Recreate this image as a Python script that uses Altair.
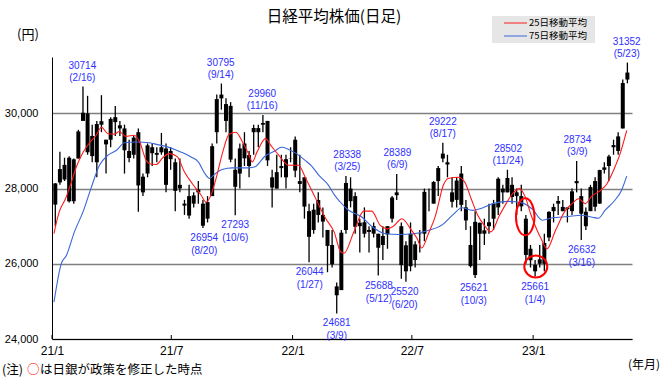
import altair as alt
import pandas as pd

# ---------------- data (weekly OHLC) ----------------
first_week = "2021-01-04"
opens = [27575,28164,28242,28822,27663,28800,29800,30000,29400,28700,29700,29300,29300,29900,29600,29600,29000,28900,29500,27900,28400,29100,28900,29100,28100,29000,28700,28100,27600,27800,27600,27900,27600,27200,27800,29500,30400,29800,30200,28500,28400,29200,28600,29500,29500,29700,29800,28300,28000,28600,28300,28800,
         29300,28200,28300,27400,26900,27300,27300,26900,26500,25400,25300,26900,28000,27800,27000,26800,26900,26800,26800,26500,27000,27200,27900,27000,25800,26800,26100,26800,26800,27800,27600,28200,28800,28700,27900,27700,28400,27500,26500,25700,26800,26800,27000,27600,27500,28000,27900,28100,27800,27800,27200,26400,
         25800,26000,26000,26700,27400,27600,27400,27500,27400,28200,27800,27000,27400,28200,27600,28500,28600,29100,29000,29600,30900]
highs = [28139,28979,28822,28860,28800,29563,30714,30468,29700,29800,30485,29300,29900,30200,29800,29700,29300,29400,29600,28400,29200,29200,29100,29480,29200,29100,28800,28800,27700,28100,27900,28200,27700,27800,29200,30500,30795,30400,30300,28800,29200,29500,29000,29700,29700,29960,29800,28500,28900,28900,28900,29100,
         29388,28900,28300,27600,27600,27900,27500,26900,26900,25500,26900,28338,28300,27900,27200,27500,27000,27100,26800,27000,27000,27800,28389,27100,26600,27100,26600,26900,28000,28000,28200,28600,29222,28900,28300,28300,28600,27700,27000,27400,27100,27200,27600,27700,28300,28100,28502,28300,28000,28100,27300,26500,
         26100,26500,26800,27400,27600,27800,27700,27500,28000,28734,28000,27500,28100,28300,28500,28700,28900,29300,29500,30900,31352]
lows = [27002,28100,28200,27629,27600,28800,29900,28900,28700,28300,29500,28400,29100,29400,29400,28400,28700,28800,27385,27800,28300,28600,28700,28900,27900,28500,27400,27900,27300,27200,27500,27600,26954,27100,27800,29200,30100,29500,28700,27293,28000,28600,28300,28900,29100,29500,28600,27500,28000,28300,28000,28700,
        28300,27900,27200,26044,26800,27100,26700,25776,25900,24681,25300,26800,27500,26800,26300,26700,26300,26700,25688,26100,26400,27100,27700,25600,25520,25800,25900,26300,26600,27400,27600,27800,28700,28300,27500,27500,27400,26900,25900,25621,26100,26500,26800,26900,27300,27600,27900,27600,27300,27400,26000,25900,
        25661,25900,25800,26600,27100,27300,27400,27100,27300,27900,26632,26900,27400,27400,27600,28400,28200,28900,28900,29600,30800]
closes = [28139,28519,28631,27663,28779,29520,30017,28966,28864,29717,29792,29176,29854,29768,29683,29020,28813,29357,28084,28317,29149,28941,28948,28964,29066,28783,27940,28003,27548,27283,27820,27977,27013,27641,29128,30381,30500,30248,28771,28048,29068,28804,28892,29611,29609,29745,28751,28029,28437,28545,28782,28791,
          28478,28124,27522,26717,27439,27696,27122,26476,25985,25163,26827,28150,27666,26985,27093,27105,26848,27003,26427,26739,26782,27762,27824,25963,26491,25935,26517,26788,27914,27801,28175,28546,28930,28641,27650,28214,27567,27153,25937,27116,27090,26890,27105,27199,28263,27899,28283,27777,27901,27527,26235,26094,
          25973,26119,26553,27382,27509,27670,27513,27453,27927,28143,27333,27385,28041,27518,28493,28564,28856,29157,29388,30808,31086]

ma25_dates = ["2021-01-04","2021-01-07","2021-01-12","2021-01-22","2021-01-30","2021-02-07","2021-02-17","2021-02-27","2021-03-09","2021-03-17",
              "2021-03-27","2021-04-06","2021-04-13","2021-04-23","2021-05-06","2021-05-14","2021-05-24","2021-05-29","2021-06-08","2021-06-18",
              "2021-06-28","2021-07-10","2021-07-21","2021-08-02","2021-08-15","2021-08-23","2021-08-30","2021-09-07","2021-09-17","2021-09-27",
              "2021-10-07","2021-10-17","2021-10-25","2021-11-01","2021-11-08","2021-11-21","2021-11-29","2021-12-11","2021-12-26","2022-01-10",
              "2022-01-21","2022-02-05","2022-02-20","2022-03-05","2022-03-15","2022-03-20","2022-04-04","2022-04-19","2022-05-01","2022-05-14",
              "2022-05-24","2022-06-03","2022-06-16","2022-06-29","2022-07-09","2022-07-16","2022-07-26","2022-08-06","2022-08-18","2022-08-25",
              "2022-09-09","2022-09-19","2022-09-29","2022-10-09","2022-10-19","2022-10-29","2022-11-11","2022-11-21","2022-12-01","2022-12-11",
              "2022-12-19","2022-12-29","2023-01-08","2023-01-13","2023-01-22","2023-02-04","2023-02-19","2023-03-01","2023-03-11","2023-03-21",
              "2023-03-31","2023-04-13","2023-04-23","2023-05-03","2023-05-13","2023-05-23"]
ma25_vals = [26800,27050,27380,27750,28150,28580,28960,29220,29420,29630,
             29460,29450,29520,29390,29420,29240,28750,28660,28640,28820,
             28930,28850,28440,28130,27830,27640,27820,28270,28970,29450,
             29500,29240,28970,28710,28970,29330,29150,28890,28620,28620,
             28270,27740,27210,26850,26320,26280,26850,27400,27400,27020,
             26930,27000,27200,26930,26670,26420,26800,27290,28100,28270,
             28300,28180,27730,27290,27020,26850,27290,27600,27870,28000,
             27820,27290,26850,26670,26400,26890,27420,27600,27730,27600,
             27800,27950,28130,28490,28930,29550]

ma75_dates = ["2021-01-04","2021-01-15","2021-01-23","2021-02-04","2021-02-17","2021-03-01","2021-03-14","2021-03-27","2021-04-09","2021-04-21",
              "2021-05-09","2021-05-29","2021-06-10","2021-06-25","2021-07-16","2021-07-31","2021-08-11","2021-08-21","2021-08-28","2021-09-06",
              "2021-09-16","2021-10-02","2021-10-27","2021-11-05","2021-11-20","2021-12-05","2021-12-15","2022-01-05","2022-01-20","2022-01-30",
              "2022-02-10","2022-02-24","2022-03-06","2022-03-14","2022-03-25","2022-04-16","2022-05-01","2022-05-22","2022-06-11","2022-07-04",
              "2022-07-27","2022-08-17","2022-09-01","2022-09-15","2022-10-01","2022-10-15","2022-11-01","2022-11-25","2022-12-15","2022-12-31",
              "2023-01-15","2023-02-01","2023-02-15","2023-03-01","2023-03-15","2023-04-01","2023-04-10","2023-04-20","2023-05-05","2023-05-15",
              "2023-05-23"]
ma75_vals = [24980,26000,26230,26850,27380,28000,28620,28890,29020,29220,
             29240,29220,29170,29110,28970,28840,28710,28400,28270,28400,
             28510,28550,28550,28580,28860,29000,29100,28950,28750,28600,
             28350,28100,27820,27650,27450,27245,27000,26800,26780,26800,
             26890,27050,27300,27490,27420,27480,27600,27660,27620,27450,
             27160,27230,27245,27270,27290,27240,27210,27420,27690,27950,
             28330]

ann_dates = ["2021-02-16","2021-09-14","2021-11-16","2022-03-25","2022-06-09","2022-08-17","2022-11-24","2023-03-09","2023-05-23",
             "2021-08-20","2021-10-06","2022-01-27","2022-03-09","2022-05-12","2022-06-20","2022-10-03","2023-01-04","2023-03-16"]
ann_values = [30714,30795,29960,28338,28389,29222,28502,28734,31352,
              26954,27293,26044,24681,25688,25520,25621,25661,26632]
ann_labels = ["(2/16)","(9/14)","(11/16)","(3/25)","(6/9)","(8/17)","(11/24)","(3/9)","(5/23)",
              "(8/20)","(10/6)","(1/27)","(3/9)","(5/12)","(6/20)","(10/3)","(1/4)","(3/16)"]
ann_kind = ["high"] * 9 + ["low"] * 9

mark_dates = ["2022-12-20", "2023-01-05"]   # BOJ policy-change markers
mark_values = [27250, 25930]
mark_shapes = ["M0,-1 A0.5,1 0 1,1 0,1 A0.5,1 0 1,1 0,-1 Z",
               "M0,-0.96 A1,0.96 0 1,1 0,0.96 A1,0.96 0 1,1 0,-0.96 Z"]
mark_sizes = [1369, 529]

tick_dates = ["2021-01-01", "2021-07-01", "2022-01-01", "2022-07-01", "2023-01-01"]

# ---------------- frames ----------------
wk = pd.date_range(first_week, periods=len(closes), freq="7D") + pd.Timedelta(days=2)
candles = pd.DataFrame({"date": wk, "open": opens, "high": highs, "low": lows, "close": closes})
ma25 = pd.DataFrame({"date": pd.to_datetime(ma25_dates), "ma": ma25_vals})
ma75 = pd.DataFrame({"date": pd.to_datetime(ma75_dates), "ma": ma75_vals})
ann = pd.DataFrame({"date": pd.to_datetime(ann_dates), "value": ann_values,
                    "vtxt": [str(v) for v in ann_values], "dtxt": ann_labels, "kind": ann_kind})
marks = pd.DataFrame({"date": pd.to_datetime(mark_dates), "value": mark_values,
                      "shape": mark_shapes, "size": mark_sizes})
ticks = pd.DataFrame({"date": pd.to_datetime(tick_dates)})

W, H = 580, 282
JP = "Noto Sans CJK JP"
BLUE_TXT = "#2f2fff"

xscale = alt.Scale(domain=[alt.DateTime(year=2021, month=1, date=1),
                           alt.DateTime(year=2023, month=5, date=31)])
yscale = alt.Scale(domain=[24000, 31500], nice=False, zero=False)
xaxis = alt.Axis(values=[alt.DateTime(year=2021, month=1, date=1), alt.DateTime(year=2021, month=7, date=1),
                         alt.DateTime(year=2022, month=1, date=1), alt.DateTime(year=2022, month=7, date=1),
                         alt.DateTime(year=2023, month=1, date=1)],
                 labelExpr="timeFormat(datum.value, '%y') + '/' + (month(datum.value) + 1)",
                 ticks=False, grid=False, domainColor="black", domainWidth=1,
                 labelFont="Liberation Sans", labelFontSize=12, labelColor="black",
                 labelPadding=6, labelFlush=False, labelOverlap=False, title=None)
yaxis = alt.Axis(values=[24000, 26000, 28000, 30000],
                 labelExpr="format(datum.value, ',')", grid=True,
                 gridColor="#808080", gridWidth=1.5, ticks=False, domainColor="black",
                 domainWidth=1, labelFont="Liberation Sans", labelFontSize=11,
                 labelColor="black", labelPadding=14, labelFlush=False, title=None)

X = alt.X("date:T", scale=xscale, axis=xaxis)

wick = alt.Chart(candles).mark_rule(color="black", strokeWidth=1.3).encode(
    x=X, y=alt.Y("low:Q", scale=yscale, axis=yaxis), y2="high:Q")
body = alt.Chart(candles).mark_rule(color="black", strokeWidth=4).encode(
    x=X, y=alt.Y("open:Q", scale=yscale, axis=yaxis), y2="close:Q")

l25 = alt.Chart(ma25).mark_line(color="#ff1a1a", strokeWidth=1.1, interpolate="monotone").encode(
    x=X, y=alt.Y("ma:Q", scale=yscale, axis=yaxis))
l75 = alt.Chart(ma75).mark_line(color="#3a66d8", strokeWidth=1.1, interpolate="monotone").encode(
    x=X, y=alt.Y("ma:Q", scale=yscale, axis=yaxis))

circles = alt.Chart(marks).mark_point(filled=False, color="#ff0000", strokeWidth=2, opacity=1).encode(
    x=X, y=alt.Y("value:Q", scale=yscale, axis=yaxis),
    shape=alt.Shape("shape:N", scale=None), size=alt.Size("size:Q", scale=None))

def ann_layer(kind, field, dy):
    return alt.Chart(ann).transform_filter(alt.datum.kind == kind).mark_text(
        font="Liberation Sans", fontSize=10, color=BLUE_TXT, align="center",
        baseline="middle", dy=dy).encode(
        x=X, y=alt.Y("value:Q", scale=yscale, axis=yaxis), text=f"{field}:N")

anns = [ann_layer("high", "vtxt", -21), ann_layer("high", "dtxt", -9),
        ann_layer("low", "vtxt", 10), ann_layer("low", "dtxt", 23)]

tickm = alt.Chart(ticks).mark_rule(color="black", strokeWidth=1).encode(
    x=X, y=alt.value(H), y2=alt.value(H - 4))

one = pd.DataFrame({"k": [0]})

def txt(s, x, y, size, color="black", align="left", font=JP):
    return alt.Chart(one).mark_text(text=s, font=font, fontSize=size, color=color,
                                    align=align, baseline="middle").encode(
        x=alt.value(x), y=alt.value(y))

title = txt("日経平均株価(日足)", 282, -40, 15.5, align="center")
yen = txt("(円)", -35, -22, 13)
note1 = txt("(注)", -50, 313, 12.5)
note2 = txt("○", -25, 313, 12.5, color="#ff0000")
note3 = txt("は日銀が政策を修正した時点", -12, 313, 12.5)
ym = txt("(年月)", 576, 308, 12)

leg_box = alt.Chart(one).mark_rect(color="#e6e6e6").encode(
    x=alt.value(440), x2=alt.value(543), y=alt.value(-41), y2=alt.value(-14))
leg_r = alt.Chart(one).mark_rule(color="#ff1a1a", strokeWidth=1).encode(
    x=alt.value(452), x2=alt.value(475), y=alt.value(-34))
leg_b = alt.Chart(one).mark_rule(color="#3a66d8", strokeWidth=1).encode(
    x=alt.value(452), x2=alt.value(475), y=alt.value(-21))
leg_t1 = txt("25日移動平均", 477, -34, 9.5)
leg_t2 = txt("75日移動平均", 477, -21, 9.5)

chart = alt.layer(
    wick, body, l75, l25, circles, *anns, tickm,
    title, yen, note1, note2, note3, ym, leg_box, leg_r, leg_b, leg_t1, leg_t2
).properties(
    width=W, height=H,
    padding={"left": 52, "top": 57, "right": 38, "bottom": 39},
    autosize=alt.AutoSizeParams(type="none"),
    background="white",
).configure_view(stroke=None)

chart.save("out.html", embed_options={"renderer": "svg", "actions": False})
